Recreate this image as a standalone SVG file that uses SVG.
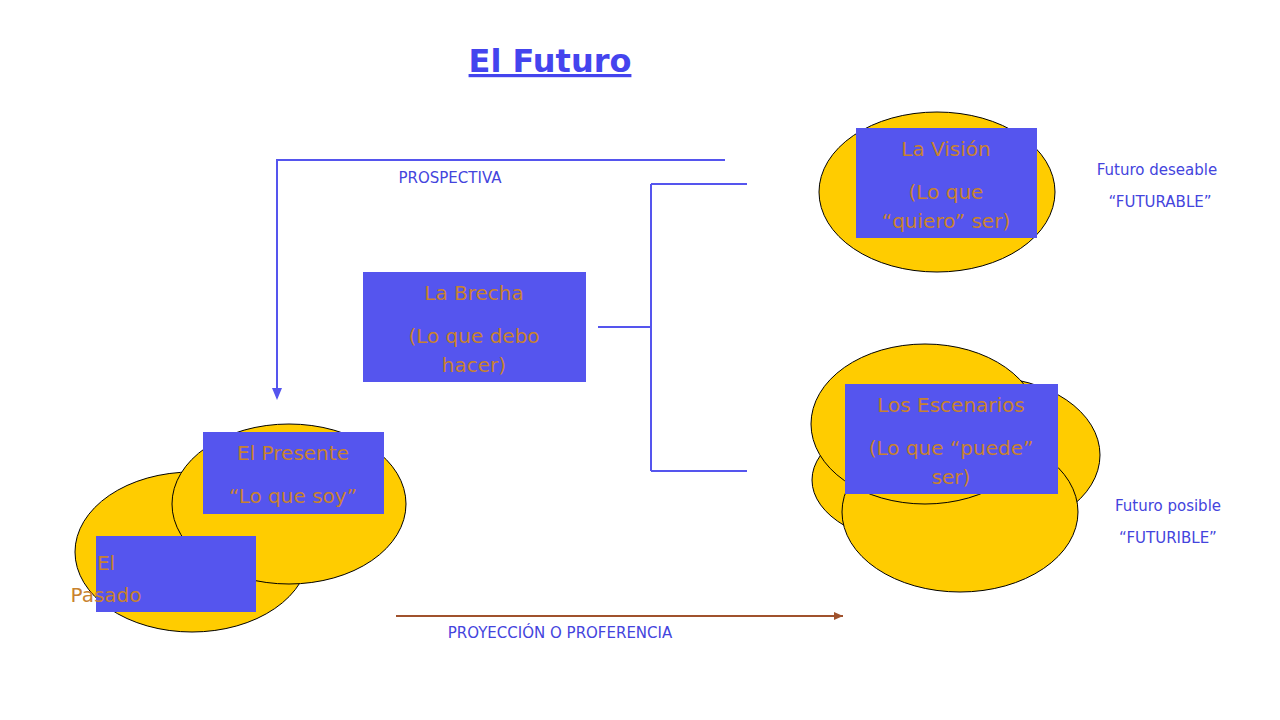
<svg xmlns="http://www.w3.org/2000/svg" width="1280" height="720" viewBox="0 0 1280 720">
<style>
.el{fill:#ffcc00;stroke:#000;stroke-width:1}
.bx{fill:#5555ee}
.bt{font-family:"DejaVu Sans",sans-serif;font-size:20px;fill:#c8822e;text-anchor:middle}
.sm{font-family:"DejaVu Sans",sans-serif;font-size:15px;fill:#4444dd;text-anchor:middle}
.ln{stroke:#5555ee;stroke-width:2;fill:none}
</style>
<defs>
<marker id="ab" markerWidth="10" markerHeight="10" refX="5" refY="8" orient="auto" markerUnits="userSpaceOnUse"><path d="M1,0 L5,9 L9,0 Z" fill="#5555ee" transform="rotate(-90 5 5)"/></marker>
<marker id="ar" markerWidth="10" markerHeight="10" refX="9" refY="5" orient="auto" markerUnits="userSpaceOnUse"><path d="M0,1 L9,5 L0,9 Z" fill="#a0522d"/></marker>
</defs>
<rect width="1280" height="720" fill="#fff"/>
<text x="550" y="72" font-family="DejaVu Sans,sans-serif" font-size="32" font-weight="bold" fill="#4444ee" text-anchor="middle" text-decoration="underline">El Futuro</text>
<g id="connectors">
<path class="ln" d="M725,160 H277 V398"/>
<path d="M277,388 L272,388 L277,400 L282,388 Z" fill="#5555ee"/>
<path class="ln" d="M598,327 H651 M651,184 V471 M651,184 H747 M651,471 H747"/>
<line x1="396" y1="616" x2="843" y2="616" stroke="#a0522d" stroke-width="2" marker-end="url(#ar)"/>
</g>
<text class="sm" x="450" y="183">PROSPECTIVA</text>
<text class="sm" x="560" y="638">PROYECCIÓN O PROFERENCIA</text>
<text class="sm" x="1157" y="175">Futuro deseable</text>
<text class="sm" x="1160" y="207">“FUTURABLE”</text>
<text class="sm" x="1168" y="511">Futuro posible</text>
<text class="sm" x="1168" y="543">“FUTURIBLE”</text>
<g id="pasado">
<ellipse class="el" cx="192" cy="552" rx="117" ry="80"/>
</g>
<g id="presente">
<ellipse class="el" cx="289" cy="504" rx="117" ry="80"/>
<rect class="bx" x="203" y="432" width="181" height="82"/>
<text class="bt" x="293" y="460">El Presente</text>
<text class="bt" x="293" y="503">“Lo que soy”</text>
</g>
<g id="pasado-box">
<rect class="bx" x="96" y="536" width="160" height="76"/>
<text class="bt" x="106" y="570" text-anchor="start">El</text>
<text class="bt" x="106" y="602" text-anchor="start">Pasado</text>
</g>
<g id="vision">
<ellipse class="el" cx="937" cy="192" rx="118" ry="80"/>
<rect class="bx" x="856" y="128" width="181" height="110"/>
<text class="bt" x="946" y="156">La Visión</text>
<text class="bt" x="946" y="199">(Lo que</text>
<text class="bt" x="946" y="228">“quiero” ser)</text>
</g>
<g id="brecha">
<rect class="bx" x="363" y="272" width="223" height="110"/>
<text class="bt" x="474" y="300">La Brecha</text>
<text class="bt" x="474" y="343">(Lo que debo</text>
<text class="bt" x="474" y="372">hacer)</text>
</g>
<g id="escenarios">
<ellipse class="el" cx="985" cy="455" rx="115" ry="78"/>
<ellipse class="el" cx="925" cy="480" rx="113" ry="65"/>
<ellipse class="el" cx="960" cy="512" rx="118" ry="80"/>
<ellipse class="el" cx="925" cy="424" rx="114" ry="80"/>
<rect class="bx" x="845" y="384" width="213" height="110"/>
<text class="bt" x="951" y="412">Los Escenarios</text>
<text class="bt" x="951" y="455">(Lo que “puede”</text>
<text class="bt" x="951" y="484">ser)</text>
</g>
</svg>
